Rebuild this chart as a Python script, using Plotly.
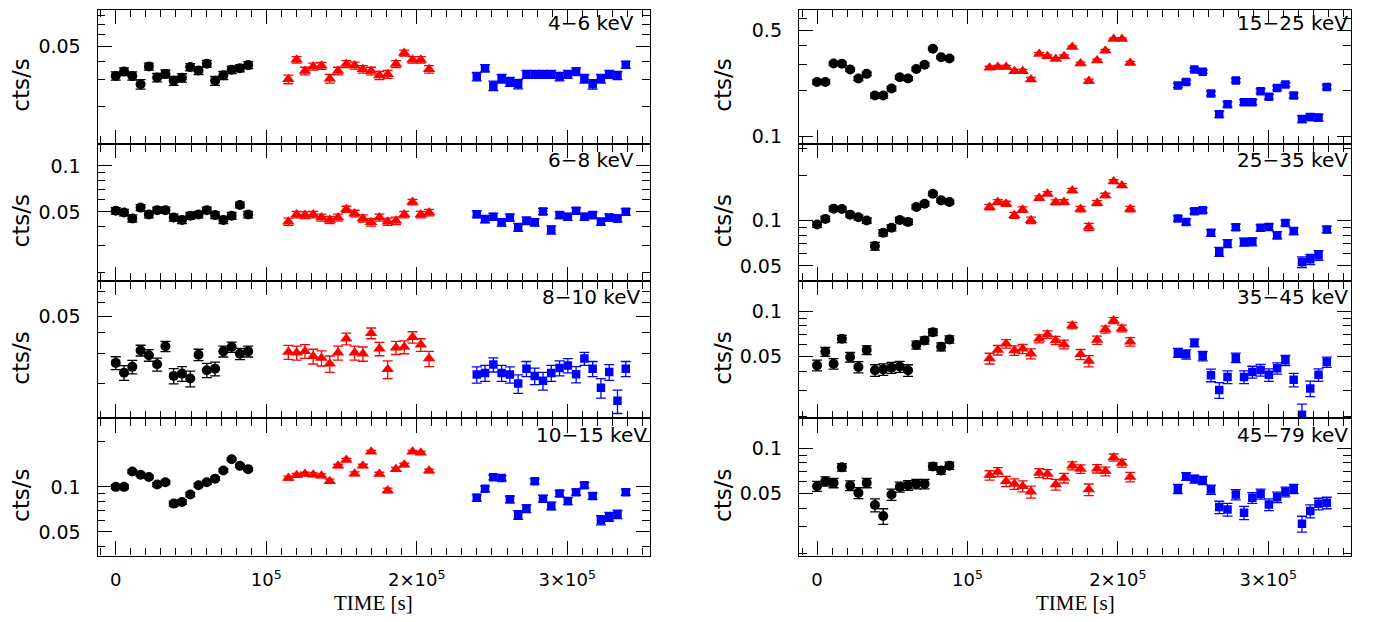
import plotly.graph_objects as go

# ---------------- data ----------------
t_black = [0, 5500, 11000, 16500, 22000, 27500, 33000, 38500, 44000, 49500,
           55000, 60500, 66000, 71500, 77000, 82500, 88000]
t_red = [114700, 120200, 125700, 131200, 136700, 142200, 147700, 153200, 158700,
         164200, 169700, 175200, 180700, 186200, 191700, 197200, 202700, 208200]
t_blue = [239900, 245400, 250900, 256400, 261900, 267400, 272900, 278400, 283900,
          289400, 294900, 300400, 305900, 311400, 316900, 322400, 327900, 333400, 338900]

band_labels = ["4\u22126 keV", "6\u22128 keV", "8\u221210 keV", "10\u221215 keV",
               "15\u221225 keV", "25\u221235 keV", "35\u221245 keV", "45\u221279 keV"]

black_4_6 = [0.0319, 0.0341, 0.0319, 0.0281, 0.0368, 0.0311, 0.0329, 0.0296, 0.0310,
             0.0365, 0.0346, 0.0384, 0.0296, 0.0322, 0.0350, 0.0359, 0.0376]
red_4_6 = [0.0303, 0.0408, 0.0344, 0.0368, 0.0372, 0.0306, 0.0344, 0.0382, 0.0374,
           0.0353, 0.0344, 0.0321, 0.0327, 0.0382, 0.0452, 0.0408, 0.0408, 0.0353]
blue_4_6 = [0.0316, 0.0359, 0.0275, 0.0306, 0.0292, 0.0282, 0.0327, 0.0327, 0.0327,
            0.0327, 0.0316, 0.0327, 0.0341, 0.0306, 0.0281, 0.0306, 0.0327, 0.0321, 0.0378]

black_6_8 = [0.0508, 0.0495, 0.0453, 0.0533, 0.0480, 0.0513, 0.0513, 0.0459, 0.0442,
             0.0471, 0.0480, 0.0513, 0.0476, 0.0442, 0.0471, 0.0555, 0.0480]
red_6_8 = [0.0431, 0.0480, 0.0476, 0.0480, 0.0459, 0.0442, 0.0459, 0.0520, 0.0488,
           0.0453, 0.0427, 0.0459, 0.0431, 0.0437, 0.0480, 0.0580, 0.0480, 0.0495]
blue_6_8 = [0.0483, 0.0448, 0.0464, 0.0427, 0.0459, 0.0396, 0.0437, 0.0427, 0.0503,
            0.0381, 0.0476, 0.0464, 0.0508, 0.0464, 0.0476, 0.0431, 0.0459, 0.0453, 0.0500]

black_8_10 = [0.0265, 0.0232, 0.0251, 0.0314, 0.0294, 0.0260, 0.0332, 0.0222, 0.0229,
              0.0214, 0.0296, 0.0240, 0.0245, 0.0310, 0.0329, 0.0300, 0.0310]
red_8_10 = [0.0307, 0.0304, 0.0311, 0.0290, 0.0283, 0.0262, 0.0304, 0.0368, 0.0304,
            0.0300, 0.0397, 0.0321, 0.0243, 0.0326, 0.0329, 0.0376, 0.0339, 0.0281]
blue_8_10 = [0.0226, 0.0231, 0.0259, 0.0231, 0.0226, 0.0200, 0.0245, 0.0222, 0.0208,
             0.0231, 0.0247, 0.0256, 0.0227, 0.0281, 0.0245, 0.0189, 0.0234, 0.0158, 0.0245]

black_10_15 = [0.100, 0.100, 0.1268, 0.1206, 0.1164, 0.1036, 0.1073, 0.0773, 0.0793,
               0.0890, 0.1026, 0.1073, 0.1135, 0.1288, 0.1530, 0.1382, 0.1314]
red_10_15 = [0.1146, 0.1194, 0.1218, 0.1206, 0.1188, 0.1090, 0.1382, 0.1514, 0.1224,
             0.1382, 0.1719, 0.1218, 0.0946, 0.1314, 0.1404, 0.1719, 0.1693, 0.1281]
blue_10_15 = [0.0846, 0.0970, 0.1158, 0.1146, 0.0825, 0.0650, 0.0716, 0.1090, 0.0834,
              0.0746, 0.0904, 0.0804, 0.0922, 0.1026, 0.0868, 0.0600, 0.0631, 0.0657, 0.0922]

black_15_25 = [0.229, 0.229, 0.303, 0.302, 0.277, 0.241, 0.259, 0.186, 0.186,
               0.207, 0.246, 0.241, 0.279, 0.298, 0.380, 0.334, 0.327]
red_15_25 = [0.284, 0.288, 0.288, 0.270, 0.270, 0.238, 0.351, 0.339, 0.325,
             0.339, 0.390, 0.303, 0.232, 0.317, 0.369, 0.441, 0.441, 0.306]
blue_15_25 = [0.217, 0.229, 0.277, 0.268, 0.192, 0.140, 0.163, 0.234, 0.168, 0.168,
              0.199, 0.183, 0.209, 0.220, 0.186, 0.130, 0.134, 0.133, 0.212]

black_25_35 = [0.0941, 0.1026, 0.1200, 0.1194, 0.1095, 0.1052, 0.1000, 0.0677, 0.0829,
               0.0895, 0.1010, 0.0980, 0.1230, 0.1294, 0.1507, 0.1362, 0.1328]
red_25_35 = [0.1230, 0.1328, 0.1294, 0.1084, 0.1182, 0.1005, 0.1411, 0.1507, 0.1321,
             0.1328, 0.1585, 0.1194, 0.0908, 0.1308, 0.1469, 0.1817, 0.1710, 0.1194]
blue_25_35 = [0.1031, 0.0980, 0.1152, 0.1170, 0.0829, 0.0621, 0.0705, 0.0904, 0.0720,
              0.0723, 0.0895, 0.0908, 0.0800, 0.0965, 0.0851, 0.0531, 0.0553, 0.0588, 0.0873]

black_35_45 = [0.0438, 0.0539, 0.0449, 0.0657, 0.0497, 0.0427, 0.0553, 0.0406, 0.0412,
               0.0423, 0.0430, 0.0406, 0.0597, 0.0641, 0.0727, 0.0582, 0.0650]
red_35_45 = [0.0487, 0.0553, 0.0609, 0.0550, 0.0564, 0.0523, 0.0657, 0.0702, 0.0641,
             0.0603, 0.0804, 0.0518, 0.0468, 0.0644, 0.0757, 0.0868, 0.0769, 0.0628]
blue_35_45 = [0.0531, 0.0518, 0.0618, 0.0505, 0.0377, 0.0301, 0.0367, 0.0492, 0.0367,
              0.0396, 0.0408, 0.0379, 0.0419, 0.0473, 0.0351, 0.0206, 0.0308, 0.0379, 0.0461]

black_45_79 = [0.0559, 0.0603, 0.0588, 0.0746, 0.0564, 0.0505, 0.0588, 0.0419, 0.0354,
               0.0492, 0.0553, 0.0567, 0.0579, 0.0579, 0.0757, 0.0712, 0.0765]
red_45_79 = [0.0661, 0.0695, 0.0603, 0.0579, 0.0559, 0.0513, 0.0684, 0.0674, 0.0573,
             0.0634, 0.0765, 0.0727, 0.0531, 0.0731, 0.0702, 0.0868, 0.0796, 0.0644]
blue_45_79 = [0.0537, 0.0650, 0.0625, 0.0612, 0.0531, 0.0406, 0.0392, 0.0492, 0.0373,
              0.0468, 0.0497, 0.0423, 0.0473, 0.0513, 0.0537, 0.0315, 0.0382, 0.0427, 0.0434]

# typical 1-sigma errors (black, red, blue) per band
err_4_6 = [0.0020, 0.0020, 0.0020]
err_6_8 = [0.0024, 0.0024, 0.0024]
err_8_10 = [0.0023, 0.0029, 0.0025]
err_10_15 = [0.0030, 0.0035, 0.0043]
err_15_25 = [0.0070, 0.0070, 0.0068]
err_25_35 = [0.0040, 0.0050, 0.0043]
err_35_45 = [0.0036, 0.0040, 0.0036]
err_45_79 = [0.0042, 0.0047, 0.0038]

x_tick_vals = [0, 100000, 200000, 300000]
x_tick_text = ["0", "10<sup>5</sup>", "2\u00d710<sup>5</sup>", "3\u00d710<sup>5</sup>"]

# ---------------- layout helpers ----------------
# the page body has an 8 px margin, so the figure is placed at (8, 8)
OFF = 8
W, H = 1374 - 2 * OFF, 622 - 2 * OFF
col_px = [(97.7, 650.0), (799.0, 1351.0)]      # page pixels
row_px = [8.6, 143.7, 281.9, 420.1, 558.3]     # page pixels
x_range = [-12000, 355000]


def px(p):
    return (p - OFF) / W


def py(p):
    return min(1.0, 1 - (p - OFF) / H)


panels = [
    # label, col, row, black, red, blue, errs, log-range, labelled ticks
    (band_labels[0], 0, 0, black_4_6, red_4_6, blue_4_6, err_4_6, [-1.945, -1.058], [0.05]),
    (band_labels[1], 0, 1, black_6_8, red_6_8, blue_6_8, err_6_8, [-1.755, -0.855], [0.05, 0.1]),
    (band_labels[2], 0, 2, black_8_10, red_8_10, blue_8_10, err_8_10, [-1.905, -1.093], [0.05]),
    (band_labels[3], 0, 3, black_10_15, red_10_15, blue_10_15, err_10_15, [-1.46, -0.542], [0.05, 0.1]),
    (band_labels[4], 1, 0, black_15_25, red_15_25, blue_15_25, err_15_25, [-1.05, -0.161], [0.1, 0.5]),
    (band_labels[5], 1, 1, black_25_35, red_25_35, blue_25_35, err_25_35, [-1.402, -0.49], [0.05, 0.1]),
    (band_labels[6], 1, 2, black_35_45, red_35_45, blue_35_45, err_35_45, [-1.71, -0.80], [0.05, 0.1]),
    (band_labels[7], 1, 3, black_45_79, red_45_79, blue_45_79, err_45_79, [-1.714, -0.802], [0.05, 0.1]),
]

FONT = "DejaVu Sans"
styles = [
    dict(color="black", symbol="circle", size=10, t=t_black),
    dict(color="#ff0000", symbol="triangle-up", size=11, t=t_red),
    dict(color="#0000ff", symbol="square", size=8.5, t=t_blue),
]

fig = go.Figure()
layout = dict(
    width=W, height=H, margin=dict(l=0, r=0, t=0, b=0),
    paper_bgcolor="white", plot_bgcolor="white", showlegend=False,
    font=dict(family=FONT, size=18, color="black"),
)
annotations = []


def fmt(v):
    return ("%g" % v)


for i, (label, col, row, bk, rd, bl, errs, yr, labelled) in enumerate(panels, start=1):
    x0, x1 = col_px[col]
    ytop, ybot = row_px[row], row_px[row + 1]
    xd = [px(x0), px(x1)]
    yd = [py(ybot), py(ytop)]
    xa = "x" if i == 1 else f"x{i}"
    ya = "y" if i == 1 else f"y{i}"
    for st, vals, e in zip(styles, (bk, rd, bl), errs):
        fig.add_trace(go.Scatter(
            x=st["t"], y=vals, mode="markers", xaxis=xa, yaxis=ya,
            marker=dict(color=st["color"], symbol=st["symbol"], size=st["size"], line=dict(width=0)),
            error_y=dict(type="constant", value=e, color=st["color"], thickness=1.3, width=5),
            hoverinfo="skip",
        ))
    bottom = row == 3
    layout["xaxis" if i == 1 else f"xaxis{i}"] = dict(
        domain=xd, anchor=ya, range=x_range, showgrid=False, zeroline=False,
        showline=True, mirror="allticks", linecolor="black", linewidth=1.4,
        ticks="inside", ticklen=14, tickwidth=1.3, tickcolor="black",
        tickmode="array", tickvals=x_tick_vals, ticktext=x_tick_text,
        showticklabels=bottom, ticklabelstandoff=8,
        tickfont=dict(family=FONT, size=18, color="black"),
        minor=dict(ticks="inside", ticklen=7.5, tickwidth=1.2, tickcolor="black",
                   dtick=10000, tick0=0, showgrid=False),
    )
    lo, hi = 10 ** yr[0], 10 ** yr[1]
    minor_vals = []
    for dec in (0.001, 0.01, 0.1, 1.0):
        for m in range(1, 10):
            v = round(m * dec, 6)
            if lo <= v <= hi and v not in labelled:
                minor_vals.append(v)
    layout["yaxis" if i == 1 else f"yaxis{i}"] = dict(
        domain=yd, anchor=xa, type="log", range=yr, showgrid=False, zeroline=False,
        showline=True, mirror="allticks", linecolor="black", linewidth=1.4,
        ticks="inside", ticklen=14, tickwidth=1.3, tickcolor="black",
        tickmode="array", tickvals=labelled, ticktext=[fmt(v) for v in labelled],
        ticklabelstandoff=12,
        tickfont=dict(family=FONT, size=19, color="black"),
        minor=dict(ticks="inside", ticklen=7.5, tickwidth=1.2, tickcolor="black",
                   tickmode="array", tickvals=minor_vals, showgrid=False),
    )
    # band label, 16.5 px below the panel top
    annotations.append(dict(
        text=label, xref=xa, yref="paper",
        x=316000, y=py(5.5 + row * 138.2 + 16.5),
        xanchor="center", yanchor="middle", showarrow=False,
        font=dict(family=FONT, size=20, color="black"),
    ))
    # y title
    annotations.append(dict(
        text="cts/s", xref="paper", yref="paper",
        x=px(21 if col == 0 else 723), y=py((ytop + ybot) / 2 + 9),
        xanchor="center", yanchor="middle", textangle=-90, showarrow=False,
        font=dict(family=FONT, size=23, color="black"),
    ))
    if bottom:
        annotations.append(dict(
            text="TIME [s]", xref="paper", yref="paper",
            x=px((x0 + x1) / 2), y=py(606), xanchor="center", yanchor="middle",
            showarrow=False, font=dict(family="Liberation Serif", size=21, color="black"),
        ))

layout["annotations"] = annotations
fig.update_layout(**layout)
fig.write_html("out.html")
